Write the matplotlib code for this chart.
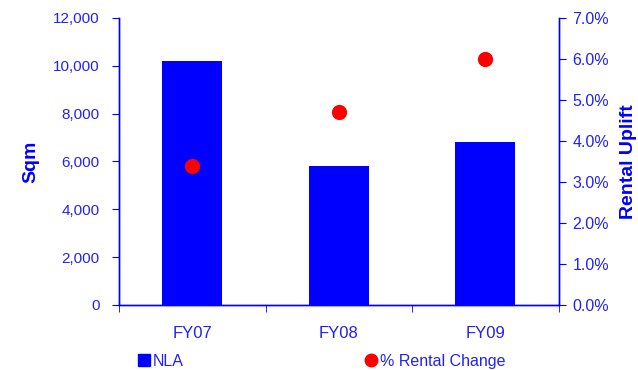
import matplotlib
matplotlib.use("agg")
import matplotlib.pyplot as plt
from matplotlib.lines import Line2D
from matplotlib.ticker import FuncFormatter

categories = ["FY07", "FY08", "FY09"]
nla_sqm = [10200, 5800, 6820]
rental_change_pct = [3.4, 4.7, 6.0]

BLUE = "#0000FF"
TEXT_BLUE = "#2222EE"
RED = "#FF0000"

plt.rcParams["font.family"] = ["Liberation Sans", "DejaVu Sans"]

fig = plt.figure(figsize=(6.38, 3.70), dpi=100)
ax = fig.add_axes([0.1865, 0.1757, 0.8757 - 0.1865, 0.9514 - 0.1757])
ax2 = ax.twinx()

x_values = list(range(len(categories)))
ax.bar(x_values, nla_sqm, width=0.41, color=BLUE, zorder=2)
ax2.scatter(x_values, rental_change_pct, s=120, color=RED, zorder=3, linewidths=0)

ax.set_xlim(-0.5, len(categories) - 0.5)
ax.set_ylim(0, 12000)
ax.set_yticks(range(0, 12001, 2000))
ax.yaxis.set_major_formatter(FuncFormatter(lambda v, _: f"{v:,.0f}"))
ax2.set_ylim(0, 7)
ax2.set_yticks([i for i in range(8)])
ax2.yaxis.set_major_formatter(FuncFormatter(lambda v, _: f"{v:.1f}%"))

ax.set_xticks(x_values)
ax.set_xticklabels(categories)
ax.set_xticks([i - 0.5 for i in range(len(categories) + 1)], minor=True)
ax.tick_params(axis="x", which="major", length=0, pad=15, labelsize=12, colors=TEXT_BLUE)
ax.tick_params(axis="x", which="minor", length=5, direction="out", color=BLUE)
ax.tick_params(axis="y", length=5, direction="out", color=BLUE, labelcolor=TEXT_BLUE, labelsize=11, pad=9)
ax2.tick_params(axis="y", length=5, direction="out", color=BLUE, labelcolor=TEXT_BLUE, labelsize=11.5, pad=5)

for a in (ax, ax2):
    a.spines["top"].set_visible(False)
    for side in ("left", "right", "bottom"):
        a.spines[side].set_color(BLUE)
        a.spines[side].set_linewidth(1.0)

ax.set_ylabel("Sqm", color=BLUE, fontsize=14, fontweight="bold", labelpad=10)
ax2.set_ylabel("Rental Uplift", color=BLUE, fontsize=14, fontweight="bold", labelpad=8)

nla_handle = Line2D([], [], marker="s", linestyle="none", color=BLUE, markersize=9)
rent_handle = Line2D([], [], marker="o", linestyle="none", color=RED, markersize=9)
legend_style = dict(loc="center left", frameon=False, fontsize=11.5, handlelength=0.8,
                    handletextpad=0.15, borderpad=0, borderaxespad=0)
leg1 = fig.legend([nla_handle], ["NLA"], bbox_to_anchor=(0.216, 0.024), **legend_style)
leg2 = fig.legend([rent_handle], ["% Rental Change"], bbox_to_anchor=(0.572, 0.024), **legend_style)
for leg in (leg1, leg2):
    for text in leg.get_texts():
        text.set_color(TEXT_BLUE)

fig.savefig("out.png", dpi=100)
plt.close(fig)
